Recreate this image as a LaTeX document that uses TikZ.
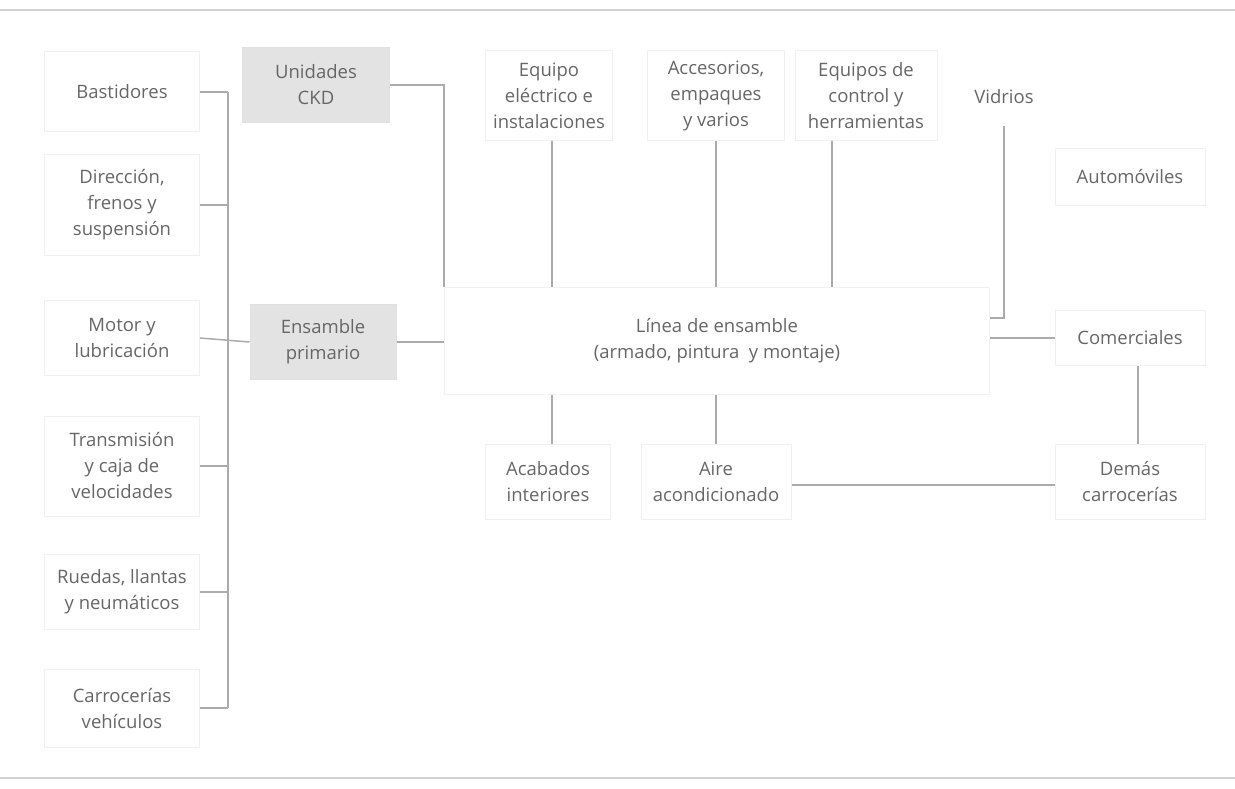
\documentclass[tikz,border=0pt]{standalone}
\usepackage{fontspec}
\setmainfont{Open Sans}
\usepackage{xcolor}
\usepackage{tikz}
\usetikzlibrary{positioning, calc}

\begin{document}
\begin{tikzpicture}[
    x=1pt, y=-1pt,
    font=\fontsize{18.5}{26}\selectfont,
    part/.style={rectangle, draw=black!6, line width=1pt, text=black!60, align=center, inner sep=0pt},
    unit/.style={part, fill=black!11, draw=black!12},
    link/.style={draw=black!33, line width=1.5pt},
    rule/.style={draw=black!18, line width=2pt}
  ]

    \useasboundingbox (0,0) rectangle (1235,789);

    % líneas de marco arriba y abajo
    \draw[rule] (0,10) -- (1235,10);
    \draw[rule] (0,778) -- (1235,778);

    % columna izquierda: subconjuntos
    \node[part, minimum width=155, minimum height=80] (bast) at (122,92) {Bastidores};
    \node[part, minimum width=155, minimum height=100] (direc) at (122,205) {Dirección,\\frenos y\\suspensión};
    \node[part, minimum width=155, minimum height=75] (motor) at (122,338) {Motor y\\lubricación};
    \node[part, minimum width=155, minimum height=100] (trans) at (122,466) {Transmisión\\y caja de\\velocidades};
    \node[part, minimum width=155, minimum height=75] (ruedas) at (122,592) {Ruedas, llantas\\y neumáticos};
    \node[part, minimum width=155, minimum height=78] (carro) at (122,708) {Carrocerías\\vehículos};

    % unidades grises
    \node[unit, minimum width=147, minimum height=75] (ckd) at (316,85) {Unidades\\CKD};
    \node[unit, minimum width=146, minimum height=75] (prim) at (323,342) {Ensamble\\primario};

    % línea central
    \node[part, minimum width=545, minimum height=107] (linea) at (717,341) {Línea de ensamble\\(armado, pintura\ \ y montaje)};

    % fila superior
    \node[part, minimum width=127, minimum height=90] (elec) at (549,96) {Equipo\\eléctrico e\\instalaciones};
    \node[part, minimum width=137, minimum height=90] (acces) at (716,96) {Accesorios,\\empaques\\y varios};
    \node[part, minimum width=142, minimum height=90] (ctrl) at (866,96) {Equipos de\\control y\\herramientas};
    \node[part, minimum width=88, minimum height=58, draw=none] (vidrio) at (1004,97) {Vidrios};

    % fila inferior
    \node[part, minimum width=125, minimum height=75] (acab) at (548,482) {Acabados\\interiores};
    \node[part, minimum width=150, minimum height=75] (aire) at (716,482) {Aire\\acondicionado};

    % columna derecha: productos
    \node[part, minimum width=150, minimum height=57] (auto) at (1130,177) {Automóviles};
    \node[part, minimum width=150, minimum height=55] (comer) at (1130,338) {Comerciales};
    \node[part, minimum width=150, minimum height=75] (demas) at (1130,482) {Demás\\carrocerías};

    % colector izquierdo
    \coordinate (bus) at (228,0);
    \draw[link] (bast.east -| bus) -- (carro.east -| bus);
    \foreach \n in {bast, direc, trans, ruedas, carro}
      \draw[link] (\n.east) -- (\n.east -| bus);
    \draw[link] (motor.east) -- (prim.west);

    % entradas a la línea
    \draw[link] (ckd.east) -| (linea.north west);
    \draw[link] (prim.east) -- (prim.east -| linea.west);
    \draw[link] ([xshift=3pt]elec.south) -- ([xshift=3pt]elec.south |- linea.north);
    \draw[link] (acces.south) -- (acces.south |- linea.north);
    \draw[link] ([xshift=-34pt]ctrl.south) -- ([xshift=-34pt]ctrl.south |- linea.north);
    \draw[link] (vidrio.south) |- ([yshift=23pt]linea.east);

    % salidas de la línea
    \draw[link] (linea.east |- comer.west) -- (comer.west);
    \draw[link] ([xshift=4pt]acab.north |- linea.south) -- ([xshift=4pt]acab.north);
    \draw[link] (aire.north |- linea.south) -- (aire.north);
    \draw[link] ([xshift=8pt]comer.south) -- ([xshift=8pt]comer.south |- demas.north);
    \draw[link] ([yshift=-3pt]aire.east) -- ([yshift=-3pt]aire.east -| demas.west);

\end{tikzpicture}
\end{document}
